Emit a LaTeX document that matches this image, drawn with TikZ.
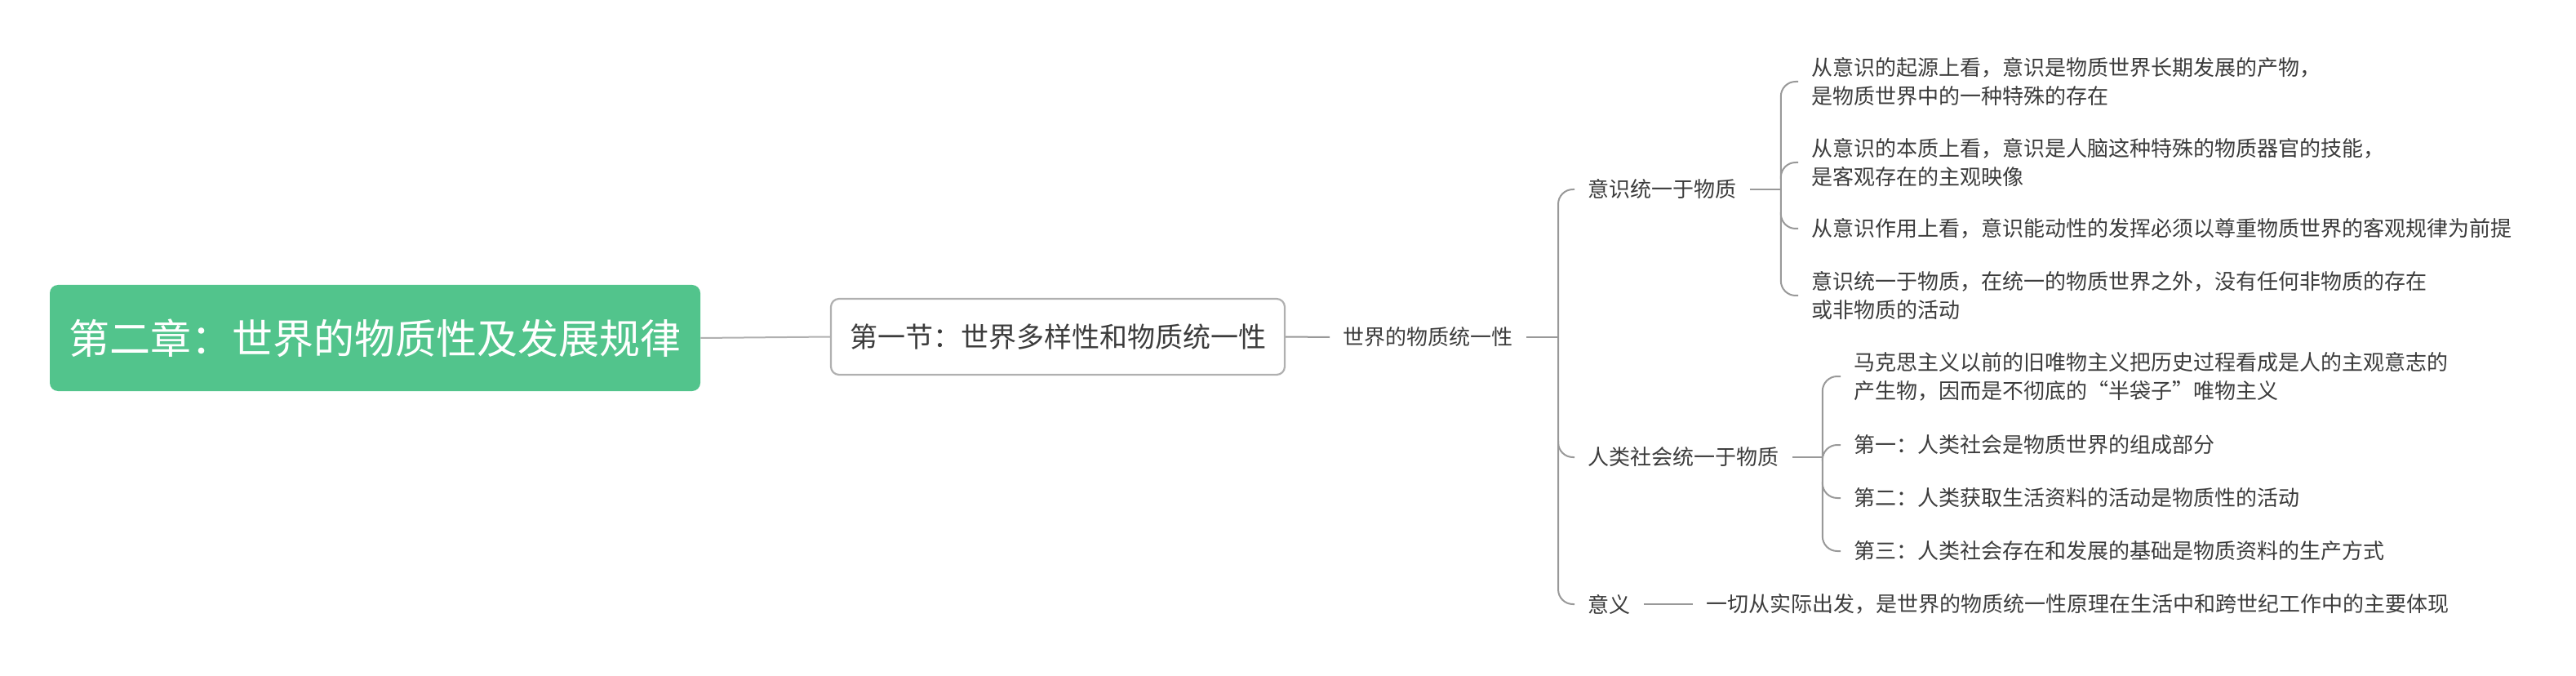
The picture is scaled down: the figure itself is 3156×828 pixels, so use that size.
\documentclass[tikz,border=0pt]{standalone}
\usepackage{fontspec}
\setmainfont{Noto Sans CJK SC}
\usetikzlibrary{calc}
\definecolor{rootgreen}{HTML}{52C48C}
\definecolor{txtgray}{HTML}{3C3C3C}
\definecolor{linegray}{HTML}{999999}
\definecolor{boxgray}{HTML}{B0B0B0}
\tikzset{
  rootbox/.style={fill=rootgreen, rounded corners=5pt, text=white, font=\fontsize{25pt}{30pt}\selectfont,
    minimum width=398.5pt, minimum height=65pt, inner sep=0pt},
  secbox/.style={draw=boxgray, line width=1.1pt, fill=white, rounded corners=5pt, text=txtgray,
    font=\fontsize{17pt}{20pt}\selectfont, minimum width=278pt, minimum height=46.5pt, inner sep=0pt},
  lab/.style={text=txtgray, font=\fontsize{13pt}{17.5pt}\selectfont, anchor=west, align=left,
    inner xsep=8pt, inner ysep=0pt},
  conn/.style={draw=linegray, line width=1pt},
  brk/.style={conn, rounded corners=9pt},
}
\begin{document}
\begin{tikzpicture}[x=0.5pt, y=-0.5pt]
\useasboundingbox (0,0) rectangle (3156,828);
% nodes
\node[rootbox] (root) at (459.5,414) {第二章：世界的物质性及发展规律};
\node[secbox] (sec) at (1296,412.5) {第一节：世界多样性和物质统一性};
\node[lab] (w) at (1629,413) {世界的物质统一性};
\coordinate (b1) at (1909,413);
\node[lab] (c1) at (1929,232) {意识统一于物质};
\node[lab] (c2) at (1929,560) {人类社会统一于物质};
\node[lab] (c3) at (1929,740) {意义};
\path (c1.east) ++(38,0) coordinate (b2);
\path (c2.east) ++(37,0) coordinate (b3);
\node[lab] (d1) at (2203,100) {从意识的起源上看，意识是物质世界长期发展的产物，\\是物质世界中的一种特殊的存在};
\node[lab] (d2) at (2203,199) {从意识的本质上看，意识是人脑这种特殊的物质器官的技能，\\是客观存在的主观映像};
\node[lab] (d3) at (2203,280) {从意识作用上看，意识能动性的发挥必须以尊重物质世界的客观规律为前提};
\node[lab] (d4) at (2203,362) {意识统一于物质，在统一的物质世界之外，没有任何非物质的存在\\或非物质的活动};
\node[lab] (e1) at (2255,461) {马克思主义以前的旧唯物主义把历史过程看成是人的主观意志的\\产生物，因而是不彻底的“半袋子”唯物主义};
\node[lab] (e2) at (2255,545) {第一：人类社会是物质世界的组成部分};
\node[lab] (e3) at (2255,610) {第二：人类获取生活资料的活动是物质性的活动};
\node[lab] (e4) at (2255,675) {第三：人类社会存在和发展的基础是物质资料的生产方式};
\node[lab] (f1) at (2074,740) {一切从实际出发，是世界的物质统一性原理在生活中和跨世纪工作中的主要体现};
% connectors
\draw[conn, draw=boxgray] (root.east) -- (sec.west);
\draw[conn] (sec.east) -- (w.west);
\draw[conn] (w.east) -- (b1);
\draw[brk] (c1.west) -| (b1) |- (c3.west);
\draw[brk] ($(b1 |- c2.west)+(0,-20)$) |- (c2.west);
\draw[conn] (c1.east) -- (b2);
\draw[brk] (d1.west) -| (b2) |- (d4.west);
\draw[brk] ($(b2 |- d2.west)+(0,20)$) |- (d2.west);
\draw[brk] ($(b2 |- d3.west)+(0,-20)$) |- (d3.west);
\draw[conn] (c2.east) -- (b3);
\draw[brk] (e1.west) -| (b3) |- (e4.west);
\draw[brk] ($(b3 |- e2.west)+(0,20)$) |- (e2.west);
\draw[brk] ($(b3 |- e3.west)+(0,-20)$) |- (e3.west);
\draw[conn] (c3.east) -- (f1.west);
\end{tikzpicture}
\end{document}
